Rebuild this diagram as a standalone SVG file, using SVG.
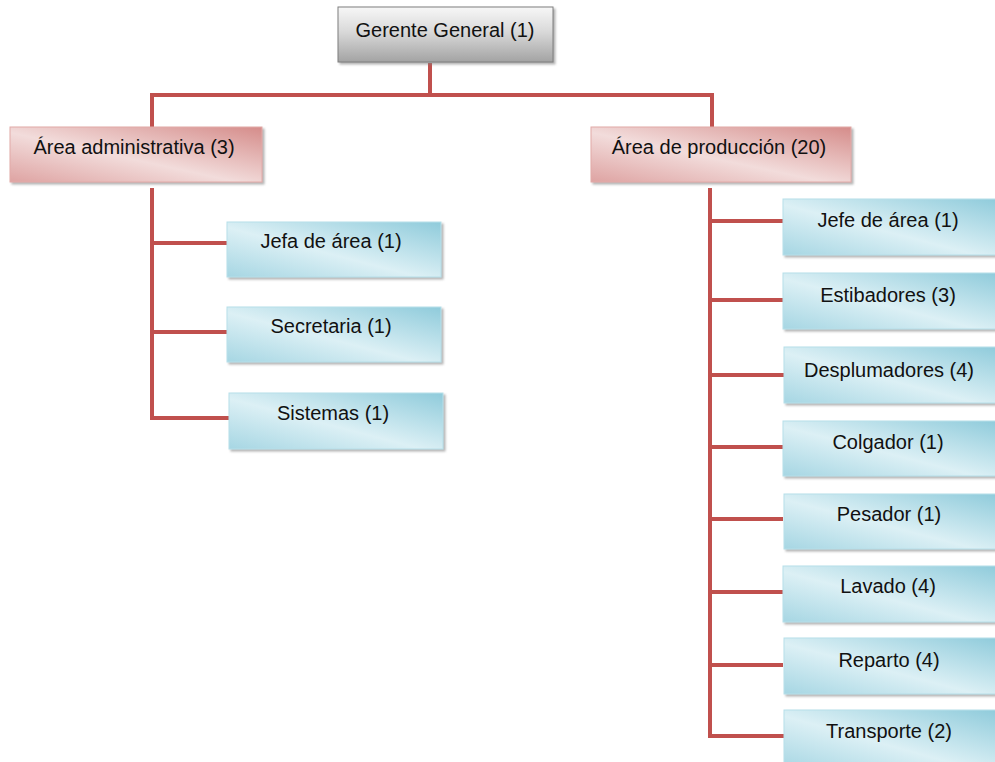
<svg xmlns="http://www.w3.org/2000/svg" width="995" height="762" viewBox="0 0 995 762">
<defs>
<linearGradient id="gGray" x1="0" y1="0" x2="0" y2="1">
<stop offset="0" stop-color="#f7f7f7"/>
<stop offset="0.45" stop-color="#d9d9d9"/>
<stop offset="1" stop-color="#a3a3a3"/>
</linearGradient>
<linearGradient id="gRed" x1="1" y1="0" x2="0" y2="1">
<stop offset="0" stop-color="#d58c8a"/>
<stop offset="0.55" stop-color="#f2dcdb"/>
<stop offset="1" stop-color="#dea3a2"/>
</linearGradient>
<linearGradient id="gBlue" x1="1" y1="0" x2="0" y2="1">
<stop offset="0" stop-color="#8fcbdb"/>
<stop offset="0.55" stop-color="#dcf0f5"/>
<stop offset="1" stop-color="#a6d6e3"/>
</linearGradient>
<filter id="sh" x="-5%" y="-10%" width="115%" height="130%">
<feDropShadow dx="2" dy="2" stdDeviation="1" flood-color="#808080" flood-opacity="0.6"/>
</filter>
</defs>
<style>
text{font-family:"Liberation Sans",Arial,sans-serif;font-size:20px;fill:#111111;text-anchor:middle}
.gray{fill:url(#gGray);stroke:#7f7f7f;stroke-width:1;filter:url(#sh)}
.red{fill:url(#gRed);stroke:#e2aaa8;stroke-width:1;filter:url(#sh)}
.blue{fill:url(#gBlue);stroke:#b7dfe9;stroke-width:1;filter:url(#sh)}
.conn{fill:none;stroke:#c0504d;stroke-width:4;stroke-linecap:butt;stroke-linejoin:miter}
</style>
<rect width="995" height="762" fill="#ffffff"/>
<g id="connectors">
<path class="conn" d="M430 63 V95"/>
<path class="conn" d="M152 127 V95 H712 V127"/>
<path class="conn" d="M152 188 V418 H229"/>
<path class="conn" d="M152 243 H227"/>
<path class="conn" d="M152 332 H227"/>
<path class="conn" d="M710 188 V736 H784"/>
<path class="conn" d="M710 221 H783"/>
<path class="conn" d="M710 300 H783"/>
<path class="conn" d="M710 375 H784"/>
<path class="conn" d="M710 447 H783"/>
<path class="conn" d="M710 519 H783"/>
<path class="conn" d="M710 592 H783"/>
<path class="conn" d="M710 665 H783"/>
</g>
<g id="gerente"><rect class="gray" x="338" y="7" width="215" height="55"/><text x="445" y="37">Gerente General (1)</text></g>
<g id="admin"><rect class="red" x="10" y="127" width="252" height="55"/><text x="134" y="154">Área administrativa (3)</text></g>
<g id="produccion"><rect class="red" x="591" y="127" width="260" height="55"/><text x="719" y="154">Área de producción (20)</text></g>
<g id="jefa"><rect class="blue" x="227" y="222" width="214" height="55"/><text x="331" y="248">Jefa de área (1)</text></g>
<g id="secretaria"><rect class="blue" x="227" y="307" width="214" height="55"/><text x="331" y="333">Secretaria (1)</text></g>
<g id="sistemas"><rect class="blue" x="229" y="393" width="214" height="56"/><text x="333" y="420">Sistemas (1)</text></g>
<g id="jefe"><rect class="blue" x="783" y="199" width="215" height="56"/><text x="888" y="227">Jefe de área (1)</text></g>
<g id="estibadores"><rect class="blue" x="783" y="273" width="215" height="56"/><text x="888" y="302">Estibadores (3)</text></g>
<g id="desplumadores"><rect class="blue" x="784" y="347" width="214" height="56"/><text x="889" y="377">Desplumadores (4)</text></g>
<g id="colgador"><rect class="blue" x="783" y="421" width="215" height="55"/><text x="888" y="449">Colgador (1)</text></g>
<g id="pesador"><rect class="blue" x="784" y="494" width="214" height="55"/><text x="889" y="521">Pesador (1)</text></g>
<g id="lavado"><rect class="blue" x="783" y="566" width="215" height="56"/><text x="888" y="593">Lavado (4)</text></g>
<g id="reparto"><rect class="blue" x="784" y="638" width="214" height="56"/><text x="889" y="667">Reparto (4)</text></g>
<g id="transporte"><rect class="blue" x="784" y="710" width="214" height="60"/><text x="889" y="738">Transporte (2)</text></g>
</svg>
